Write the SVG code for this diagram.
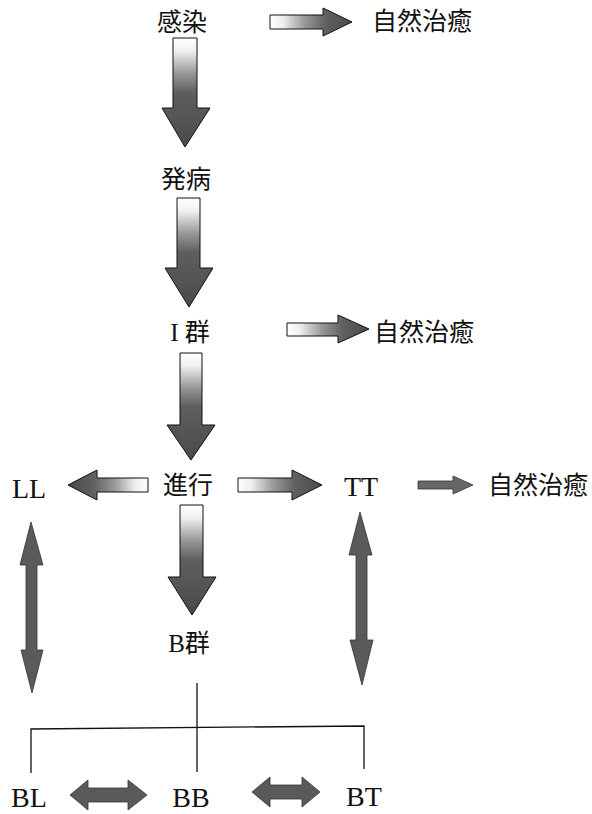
<svg xmlns="http://www.w3.org/2000/svg" width="592" height="814" viewBox="0 0 592 814">
<style>
.t{font-family:"Liberation Serif","Noto Sans CJK JP",serif;font-size:25px;fill:#111;text-anchor:middle}
.j{font-family:"Noto Sans CJK JP","Noto Sans",sans-serif;font-size:25px;fill:#111;text-anchor:middle}
.l{font-family:"Liberation Serif","Noto Sans CJK JP",serif;font-size:28px;fill:#111;text-anchor:middle}
.arr{stroke:#111;stroke-width:1;stroke-linejoin:miter}
.dn{fill:url(#gDown)}
.rt{fill:url(#gRight)}
.lf{fill:url(#gLeft)}
.solid{fill:#5a5a5a;stroke:#333;stroke-width:0.8}
.mid{fill:#666666;stroke:#333;stroke-width:0.8}
.ln{stroke:#111;stroke-width:1.3;fill:none}
</style>
<defs>
<linearGradient id="gDown" x1="0" y1="0" x2="0" y2="1">
<stop offset="0" stop-color="#ffffff"/>
<stop offset="0.12" stop-color="#f0f0f0"/>
<stop offset="0.32" stop-color="#999999"/>
<stop offset="0.5" stop-color="#5e5e5e"/>
<stop offset="1" stop-color="#4a4a4a"/>
</linearGradient>
<linearGradient id="gRight" x1="0" y1="0" x2="1" y2="0">
<stop offset="0" stop-color="#ffffff"/>
<stop offset="0.16" stop-color="#eeeeee"/>
<stop offset="0.42" stop-color="#999999"/>
<stop offset="0.68" stop-color="#606060"/>
<stop offset="1" stop-color="#4a4a4a"/>
</linearGradient>
<linearGradient id="gLeft" x1="1" y1="0" x2="0" y2="0">
<stop offset="0" stop-color="#ffffff"/>
<stop offset="0.16" stop-color="#eeeeee"/>
<stop offset="0.42" stop-color="#999999"/>
<stop offset="0.68" stop-color="#606060"/>
<stop offset="1" stop-color="#4a4a4a"/>
</linearGradient>
</defs>

<g id="connectors">
<path id="a-infect-onset" class="arr dn" d="M173,38 H197 V108 H210 L185,147 L162,108 H173 Z"/>
<path id="a-infect-heal" class="arr rt" d="M270,15 H323 V8 L352,22 L323,36 V29 H270 Z"/>
<path id="a-onset-i" class="arr dn" d="M177,198 H200 V268 H213 L189,307 L165,268 H177 Z"/>
<path id="a-i-heal" class="arr rt" d="M287,323 H338 V315 L369,329 L338,343 V336 H287 Z"/>
<path id="a-i-prog" class="arr dn" d="M180,353 H202 V425 H215 L191,460 L167,425 H180 Z"/>
<path id="a-prog-ll" class="arr lf" d="M148,478 H97 V470 L68,485 L97,500 V492 H148 Z"/>
<path id="a-prog-tt" class="arr rt" d="M238,478 H292 V470 L322,485 L292,500 V492 H238 Z"/>
<path id="a-tt-heal" class="mid" d="M418,481 H453 V476 L473,485 L453,494 V489 H418 Z"/>
<path id="a-prog-b" class="arr dn" d="M180,505 H203 V577 H216 L192,615 L168,577 H180 Z"/>
<path id="a-ll-bl" class="solid" d="M31,522 L43,565 H37 V650 H43 L32,693 L21,650 H26 V565 H20 Z"/>
<path id="a-tt-bt" class="solid" d="M360,512 L372,555 H367 V640 H373 L362,685 L350,640 H356 V555 H349 Z"/>
<path id="a-bl-bb" class="solid" d="M70,795 L88,780 V788 H128 V780 L147,795 L128,810 V802 H88 V810 Z"/>
<path id="a-bb-bt" class="solid" d="M252,792 L270,777 V785 H302 V777 L320,792 L302,807 V799 H270 V807 Z"/>
<line class="ln" x1="197" y1="683" x2="197" y2="772"/>
<polyline class="ln" points="31,773 31,729 364,726 364,769"/>
</g>

<g id="n-infection"><text class="j" x="182" y="31">感染</text></g>
<g id="n-heal1"><text class="j" x="422" y="30">自然治癒</text></g>
<g id="n-onset"><text class="j" x="186" y="188">発病</text></g>
<g id="n-groupI"><text class="t" x="190" y="341">I 群</text></g>
<g id="n-heal2"><text class="j" x="424" y="341">自然治癒</text></g>
<g id="n-progress"><text class="j" x="188" y="494">進行</text></g>
<g id="n-LL"><text class="l" x="29" y="498">LL</text></g>
<g id="n-TT"><text class="l" x="361" y="496">TT</text></g>
<g id="n-heal3"><text class="j" x="538" y="494">自然治癒</text></g>
<g id="n-groupB"><text class="t" x="189" y="652">B群</text></g>
<g id="n-BL"><text class="l" x="29" y="807">BL</text></g>
<g id="n-BB"><text class="l" x="191" y="807">BB</text></g>
<g id="n-BT"><text class="l" x="364" y="806">BT</text></g>
</svg>
